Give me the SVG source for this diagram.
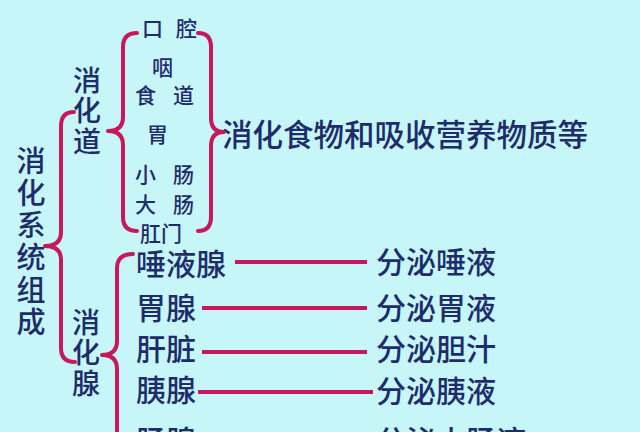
<svg xmlns="http://www.w3.org/2000/svg" width="640" height="432" viewBox="0 0 640 432">
<style>
.t{font-family:"Noto Sans CJK SC","Noto Sans",sans-serif;fill:#1f2c6c;font-weight:500}
.s{font-size:21px}
.v{writing-mode:vertical-rl;text-orientation:upright}
.b{font-size:30px}
.br{fill:none;stroke:#c8175a;stroke-width:4;stroke-linecap:round;stroke-linejoin:round}
.ln{stroke:#c8175a;stroke-width:4}
</style>
<rect width="640" height="432" fill="#c6f6f8"/>
<g id="root">
<text class="t v" x="31" y="146" style="font-size:29px;letter-spacing:3.3px">消化系统组成</text>
</g>
<g id="xiaohuadao">
<text class="t v" x="87" y="66" style="font-size:28px;letter-spacing:2.5px">消化道</text>
</g>
<g id="organs">
<text class="t s" x="142 159 176" y="36">口 腔</text>
<text class="t s" x="152" y="75">咽</text>
<text class="t s" x="135 154 173" y="103">食 道</text>
<text class="t s" x="147" y="142">胃</text>
<text class="t s" x="135 154 173" y="182">小 肠</text>
<text class="t s" x="135 154 173" y="212">大 肠</text>
<text class="t s" x="140" y="241">肛门</text>
</g>
<g id="function">
<text class="t b" x="222" y="146" style="font-size:30.5px">消化食物和吸收营养物质等</text>
</g>
<g id="xiaohuaxian">
<text class="t v" x="86" y="308" style="font-size:28px;letter-spacing:2.5px">消化腺</text>
</g>
<g id="glands">
<text class="t b" x="136" y="275">唾液腺</text>
<text class="t b" x="136" y="319">胃腺</text>
<text class="t b" x="136" y="360">肝脏</text>
<text class="t b" x="136" y="401">胰腺</text>
<text class="t b" x="136" y="452">肠腺</text>
</g>
<g id="secretions">
<text class="t b" x="376" y="273">分泌唾液</text>
<text class="t b" x="376" y="319">分泌胃液</text>
<text class="t b" x="376" y="360">分泌胆汁</text>
<text class="t b" x="376" y="402">分泌胰液</text>
<text class="t b" x="376" y="452">分泌小肠液</text>
</g>
<g id="connectors">
<path class="br" d="M74,112 Q61,112 61,126 L61,232 Q61,246 45,246 Q61,246 61,260 L61,348 Q61,362 75,362"/>
<path class="br" d="M137,33 Q123,33 123,47 L123,117 Q123,131 108,131 Q123,131 123,145 L123,217 Q123,231 137,231"/>
<path class="br" d="M198,33 Q211,33 211,47 L211,118 Q211,132 224,132 Q211,132 211,146 L211,217 Q211,231 198,231"/>
<path class="br" d="M133,254 Q117,254 117,268 L117,341 Q117,355 102,355 Q117,355 117,369 L117,440"/>
<line class="ln" x1="235" y1="262" x2="367" y2="262"/>
<line class="ln" x1="202" y1="308" x2="367" y2="308"/>
<line class="ln" x1="202" y1="352" x2="367" y2="352"/>
<line class="ln" x1="198" y1="392" x2="373" y2="392"/>
</g>
</svg>
